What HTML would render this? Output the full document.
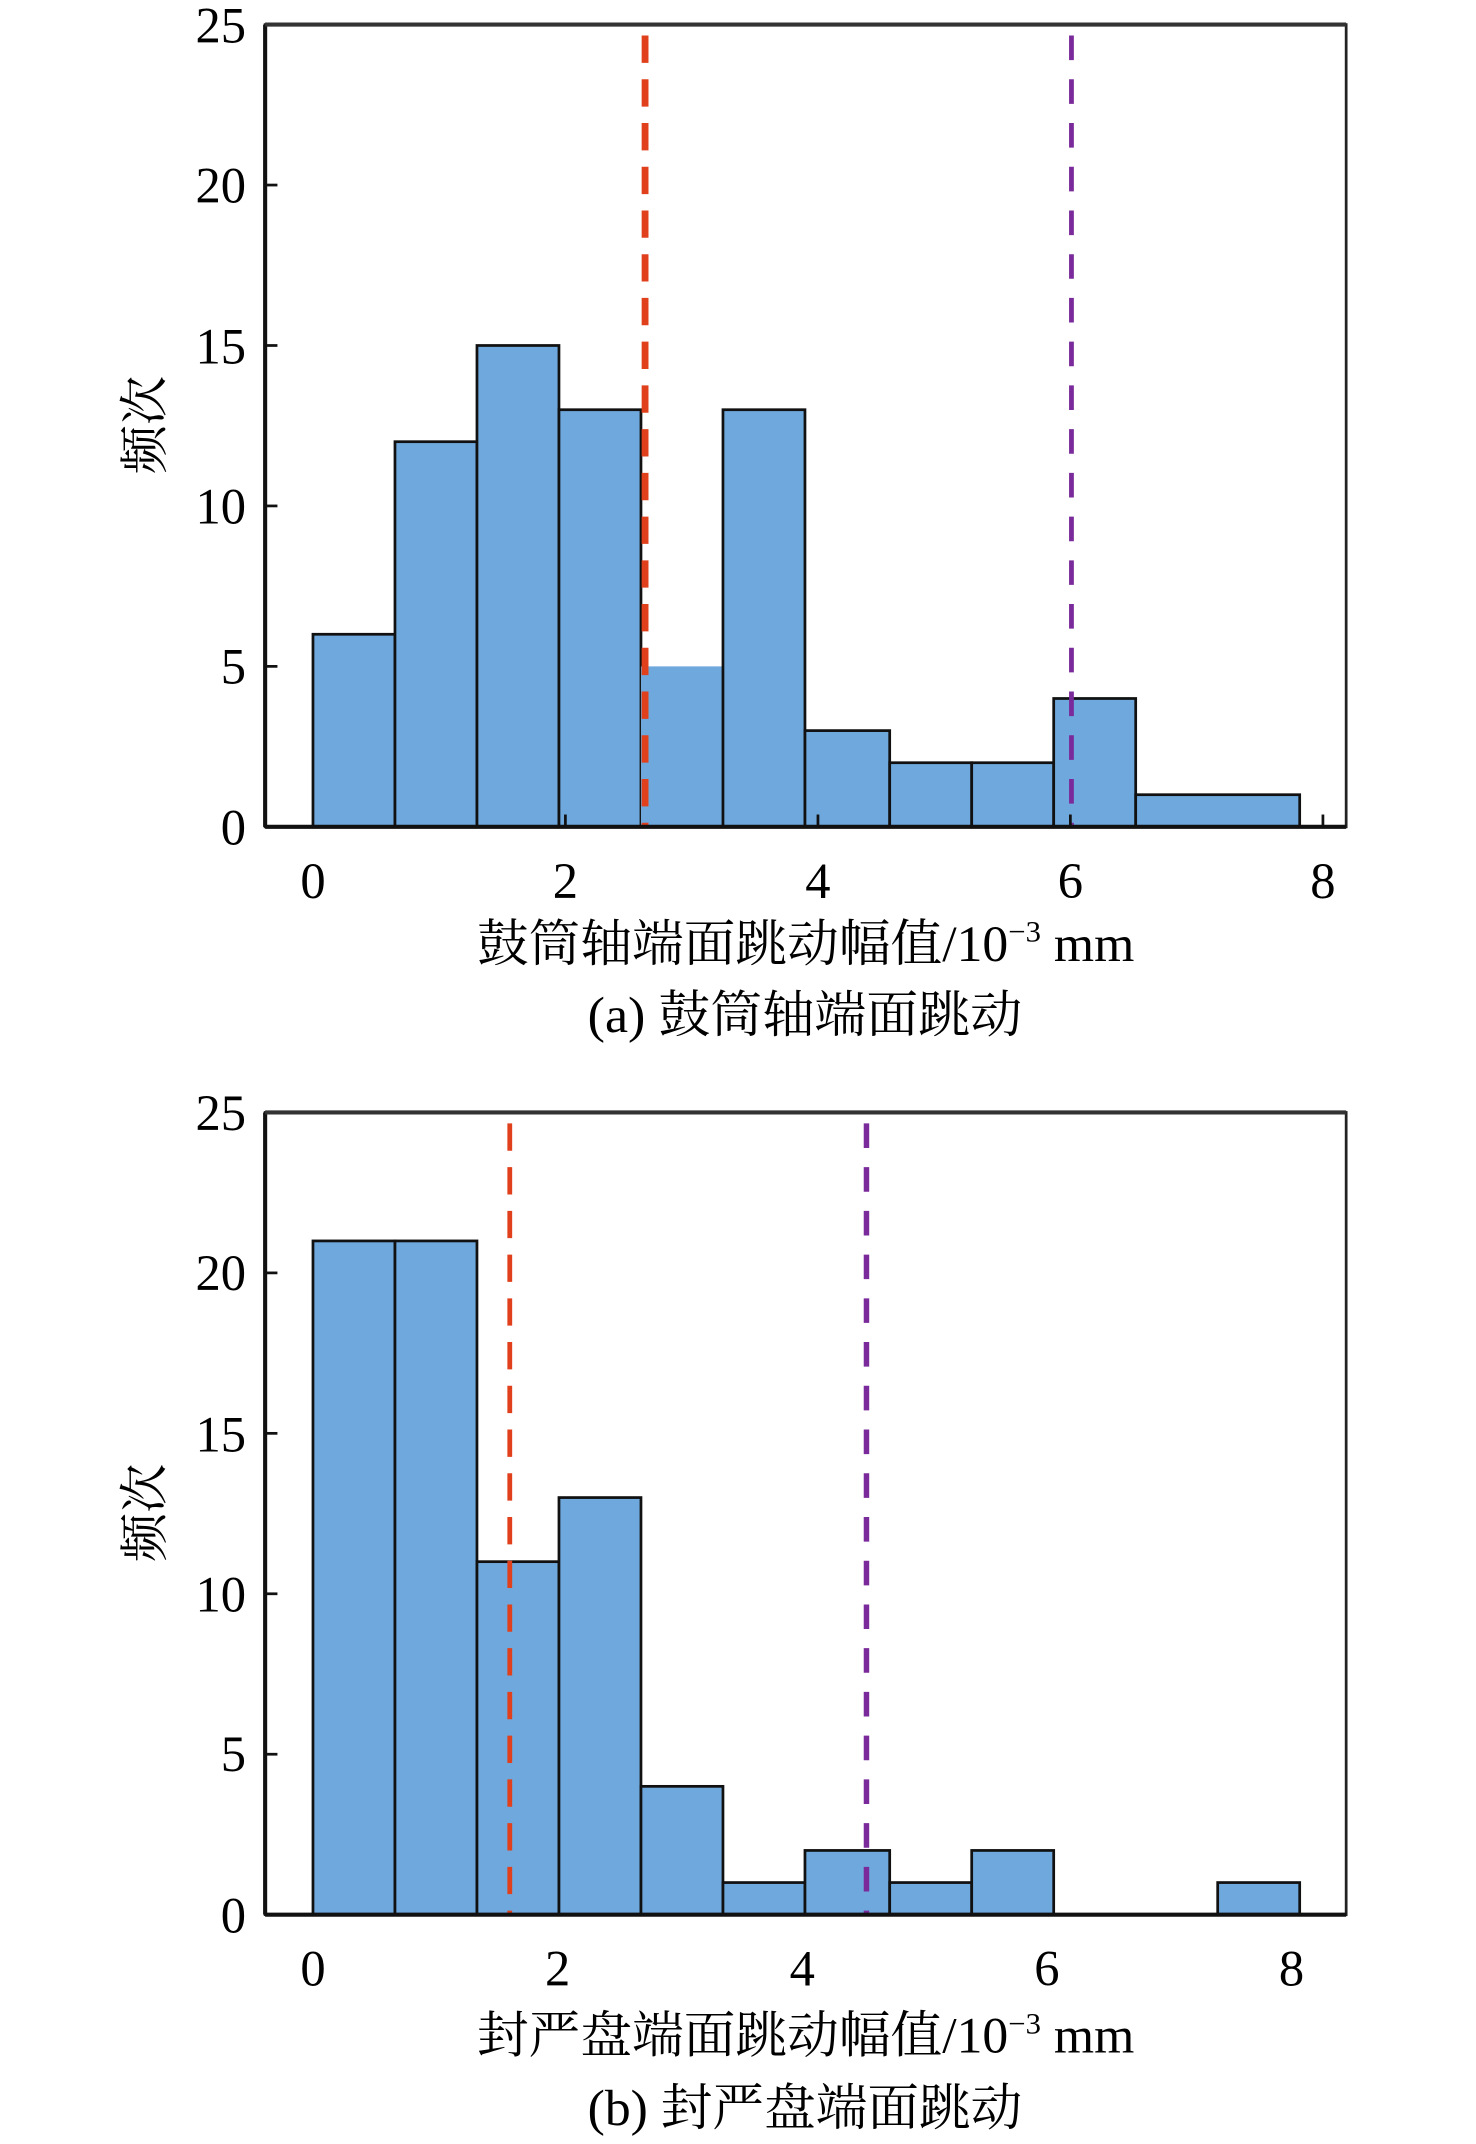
<!DOCTYPE html>
<html><head><meta charset="utf-8"><style>html,body{margin:0;padding:0;background:#fff}svg{display:block}</style></head>
<body>
<svg xmlns="http://www.w3.org/2000/svg" width="1476" height="2144" viewBox="0 0 1080 1568.8">
<g font-family="Liberation Serif, Noto Serif CJK SC, serif" fill="#000">
<!-- TOP -->
<g fill="#6fa8dc" stroke="#111" stroke-width="2">
<rect x="229" y="464.1" width="60" height="140.9"/>
<rect x="289" y="323.2" width="60" height="281.8"/>
<rect x="349" y="252.8" width="60" height="352.2"/>
<rect x="409" y="299.8" width="60" height="305.2"/>
<rect x="469" y="487.6" width="60" height="117.4" stroke="none"/>
<rect x="529" y="299.8" width="60" height="305.2"/>
<rect x="589" y="534.6" width="62" height="70.4"/>
<rect x="651" y="558.1" width="60" height="46.9"/>
<rect x="711" y="558.1" width="60" height="46.9"/>
<rect x="771" y="511.1" width="60" height="93.9"/>
<rect x="831" y="581.5" width="120" height="23.5"/>
</g>
<line x1="472" y1="26" x2="472" y2="605" stroke="#e0401c" stroke-width="5" stroke-dasharray="20 12"/>
<line x1="784" y1="26" x2="784" y2="605" stroke="#7a2a9a" stroke-width="3.5" stroke-dasharray="18 14"/>
<rect x="194" y="18" width="791" height="587" fill="none" stroke="#222" stroke-width="2"/>
<line x1="194" y1="605" x2="985" y2="605" stroke="#111" stroke-width="3"/>
<line x1="194" y1="18" x2="194" y2="605" stroke="#111" stroke-width="3"/>
<line x1="194" y1="18" x2="985" y2="18" stroke="#333" stroke-width="3"/>
<g stroke="#111" stroke-width="2">
<line x1="194" y1="135.4" x2="203" y2="135.4"/><line x1="194" y1="252.8" x2="203" y2="252.8"/><line x1="194" y1="370.2" x2="203" y2="370.2"/><line x1="194" y1="487.6" x2="203" y2="487.6"/>
<line x1="413.7" y1="605" x2="413.7" y2="596"/><line x1="598.5" y1="605" x2="598.5" y2="596"/><line x1="783.2" y1="605" x2="783.2" y2="596"/><line x1="968" y1="605" x2="968" y2="596"/>
</g>
<g font-size="37" text-anchor="end">
<text x="180" y="31">25</text><text x="180" y="148">20</text><text x="180" y="266">15</text><text x="180" y="383">10</text><text x="180" y="500">5</text><text x="180" y="618">0</text>
</g>
<g font-size="37" text-anchor="middle">
<text x="229" y="657">0</text><text x="413.7" y="657">2</text><text x="598.5" y="657">4</text><text x="783.2" y="657">6</text><text x="968" y="657">8</text>
</g>
<text transform="translate(118,311) rotate(-90)" font-size="36" text-anchor="middle">频次</text>
<text x="349" y="703" font-size="37" textLength="481" lengthAdjust="spacingAndGlyphs">鼓筒轴端面跳动幅值/10<tspan font-size="22" dy="-14">−3</tspan><tspan dy="14"> mm</tspan></text>
<text x="430" y="755" font-size="37" textLength="318" lengthAdjust="spacingAndGlyphs">(a) 鼓筒轴端面跳动</text>

<!-- BOTTOM -->
<g fill="#6fa8dc" stroke="#111" stroke-width="2">
<rect x="229" y="908" width="60" height="493"/>
<rect x="289" y="908" width="60" height="493"/>
<rect x="349" y="1142.7" width="60" height="258.3"/>
<rect x="409" y="1095.8" width="60" height="305.2"/>
<rect x="469" y="1307.1" width="60" height="93.9"/>
<rect x="529" y="1377.5" width="60" height="23.5"/>
<rect x="589" y="1354" width="62" height="47"/>
<rect x="651" y="1377.5" width="60" height="23.5"/>
<rect x="711" y="1354" width="60" height="47"/>
<rect x="891" y="1377.5" width="60" height="23.5"/>
</g>
<line x1="373" y1="822" x2="373" y2="1401" stroke="#e0401c" stroke-width="3.5" stroke-dasharray="20 12"/>
<line x1="634" y1="822" x2="634" y2="1401" stroke="#7a2a9a" stroke-width="4" stroke-dasharray="18 14"/>
<rect x="194" y="814" width="791" height="587" fill="none" stroke="#222" stroke-width="2"/>
<line x1="194" y1="1401" x2="985" y2="1401" stroke="#111" stroke-width="3"/>
<line x1="194" y1="814" x2="194" y2="1401" stroke="#111" stroke-width="3"/>
<line x1="194" y1="814" x2="985" y2="814" stroke="#333" stroke-width="3"/>
<g stroke="#111" stroke-width="2">
<line x1="194" y1="931.4" x2="203" y2="931.4"/><line x1="194" y1="1048.8" x2="203" y2="1048.8"/><line x1="194" y1="1166.2" x2="203" y2="1166.2"/><line x1="194" y1="1283.6" x2="203" y2="1283.6"/>
</g>
<g font-size="37" text-anchor="end">
<text x="180" y="827">25</text><text x="180" y="944">20</text><text x="180" y="1062">15</text><text x="180" y="1179">10</text><text x="180" y="1296">5</text><text x="180" y="1414">0</text>
</g>
<g font-size="37" text-anchor="middle">
<text x="229" y="1453">0</text><text x="408" y="1453">2</text><text x="587" y="1453">4</text><text x="766" y="1453">6</text><text x="945" y="1453">8</text>
</g>
<text transform="translate(118,1107) rotate(-90)" font-size="36" text-anchor="middle">频次</text>
<text x="349" y="1502" font-size="37" textLength="481" lengthAdjust="spacingAndGlyphs">封严盘端面跳动幅值/10<tspan font-size="22" dy="-14">−3</tspan><tspan dy="14"> mm</tspan></text>
<text x="430" y="1555" font-size="37" textLength="318" lengthAdjust="spacingAndGlyphs">(b) 封严盘端面跳动</text>
</g>
</svg>
</body></html>
